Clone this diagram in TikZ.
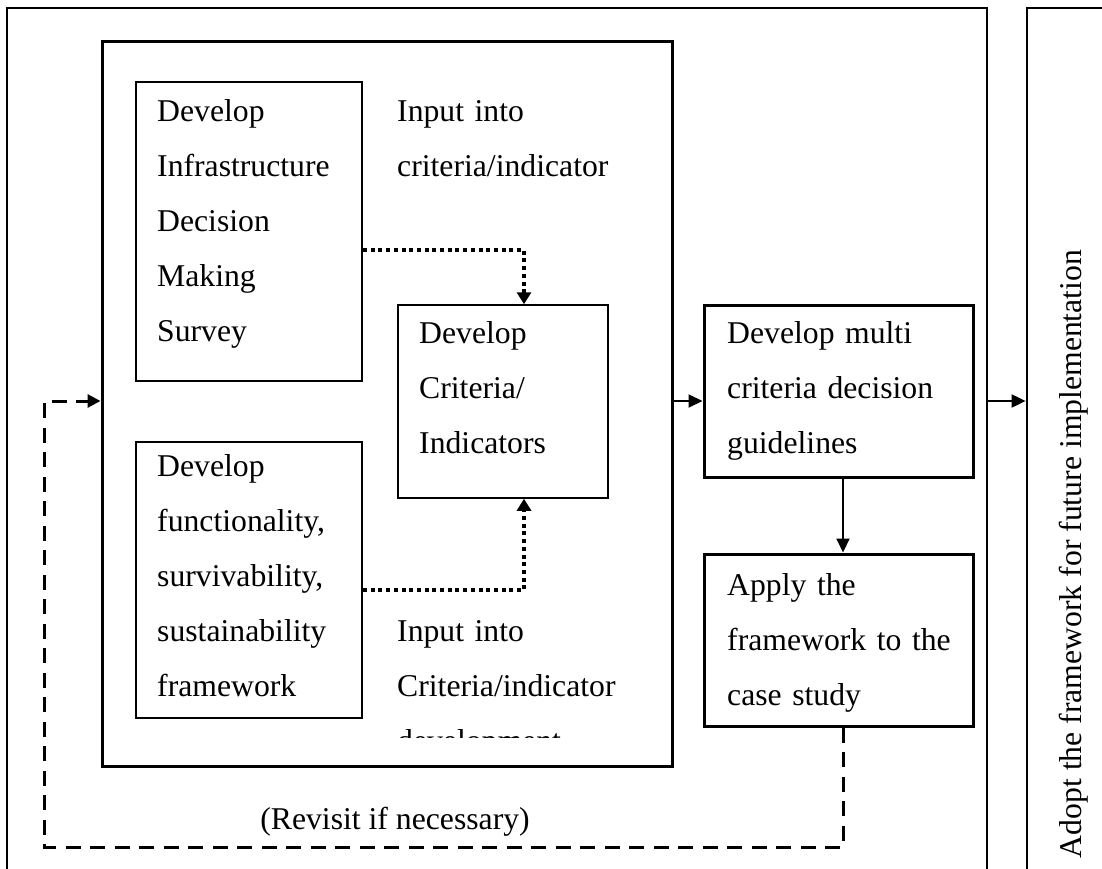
\documentclass[tikz,border=0pt]{standalone}
\usepackage{fontspec}
\setmainfont{Liberation Serif}
\usetikzlibrary{arrows.meta}
\begin{document}
\begin{tikzpicture}[x=1pt,y=-1pt,
  frame/.style={draw, rectangle, inner sep=0pt, line width=#1},
  frame/.default=2pt,
  words/.style={anchor=base west, inner sep=0pt, text width=#1, align=left,
    font=\fontsize{31.7}{55}\selectfont},
  arr/.style={line width=2pt, -{Triangle[length=14pt,width=13pt]}},
  dotarr/.style={line width=3.8pt, dash pattern=on 4pt off 3.7pt,
    -{Triangle[length=12pt,width=14pt]}},
  dasharr/.style={line width=3pt, dash pattern=on 15pt off 9.5pt,
    -{Triangle[length=13pt,width=13pt]}}]

% page
\fill[white] (0,0) rectangle (1102,869);
\useasboundingbox (0,0) rectangle (1102,869);

% frames (the two tall frames run past the lower edge of the page)
\node[frame=2.8pt, minimum width=980pt, minimum height=882pt] (stage) at (497,449) {};
\node[frame=2.8pt, minimum width=83pt, minimum height=882pt] (adoptbox) at (1068.5,449) {};
\node[frame=3pt, minimum width=570pt, minimum height=724pt] (inner) at (387,404) {};
\node[frame=2pt, minimum width=226pt, minimum height=299pt] (infra) at (249,231.5) {};
\node[frame=1.5pt, minimum width=210pt, minimum height=193pt] (crit) at (503,401.5) {};
\node[frame=2pt, minimum width=226pt, minimum height=276pt] (func) at (249,580) {};
\node[frame=3pt, minimum width=269pt, minimum height=172pt] (guide) at (838.5,391) {};
\node[frame=3pt, minimum width=269pt, minimum height=172pt] (apply) at (838.5,640) {};

% texts
\node[words=220pt] (infratxt) at (157,121.7)
  {Develop\\Infrastructure\\Decision\\Making\\Survey};
\node[words=260pt] (inputA) at (397,121.7) {Input into\\criteria/indicator};
\node[words=190pt] (crittxt) at (419,343) {Develop\\Criteria/\\Indicators};
\node[words=220pt] (functxt) at (157,476.7)
  {Develop\\functionality,\\survivability,\\sustainability\\framework};
\begin{scope}
  \clip (390,600) rectangle (665,737);
  \node[words=260pt] (inputB) at (397,641.7)
    {Input into\\Criteria/indicator\\development};
\end{scope}
\node[words=250pt] (guidetxt) at (727,343)
  {Develop multi\\criteria decision\\guidelines};
\node[words=250pt] (applytxt) at (727,595)
  {Apply the\\framework to the\\case study};
\node[anchor=base, inner sep=0pt, font=\fontsize{31.7}{38}\selectfont]
  (revisit) at (395,829) {(Revisit if necessary)};
\node[anchor=base, inner sep=0pt, rotate=90, font=\fontsize{31.7}{38}\selectfont]
  (adopt) at (1081.7,554) {Adopt the framework for future implementation};

% connectors
\coordinate (dx) at (524,0);
\coordinate (fy) at (0,401);
\coordinate (upy) at (0,250);
\coordinate (loy) at (0,590);
\coordinate (bx) at (843,0);
\coordinate (dl) at (44,847);
\coordinate (dr) at (843,847);

\draw[dotarr] (infra.east |- upy) -| (crit.north -| dx);
\draw[dotarr] (func.east |- loy) -| (crit.south -| dx);
\draw[arr] (inner.east |- fy) -- (guide.west |- fy);
\draw[arr] (guide.south -| bx) -- (apply.north -| bx);
\draw[arr] (stage.east |- fy) -- (adoptbox.west |- fy);
\draw[dasharr] (apply.south -| bx) -- (dr) -- (dl) -- (dl |- fy) -- (inner.west |- fy);

\end{tikzpicture}
\end{document}
